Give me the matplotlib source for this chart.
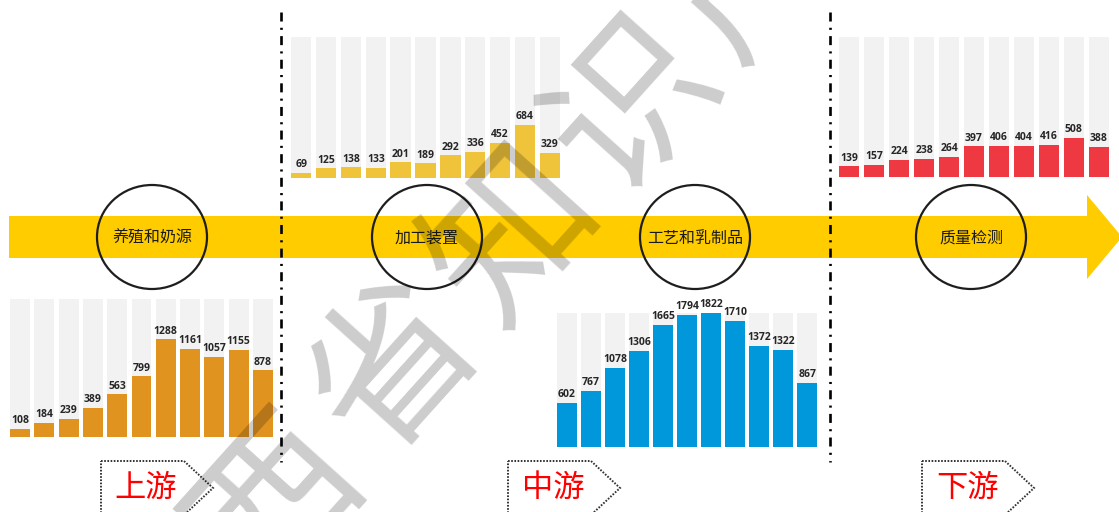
import numpy as np
import matplotlib
matplotlib.use("Agg")
import matplotlib.pyplot as plt
from matplotlib.patches import Polygon, Ellipse

plt.rcParams["lines.scale_dashes"] = False
plt.rcParams["font.family"] = ["Noto Sans CJK SC", "DejaVu Sans"]

# ---- data -------------------------------------------------------------
upstream_values = [108, 184, 239, 389, 563, 799, 1288, 1161, 1057, 1155, 878]
processing_values = [69, 125, 138, 133, 201, 189, 292, 336, 452, 684, 329]
craft_values = [602, 767, 1078, 1306, 1665, 1794, 1822, 1710, 1372, 1322, 867]
quality_values = [139, 157, 224, 238, 264, 397, 406, 404, 416, 508, 388]

stage_names = ["养殖和奶源", "加工装置", "工艺和乳制品", "质量检测"]
segment_names = ["上游", "中游", "下游"]
watermark = "陕西省知识产权"

# ---- canvas -----------------------------------------------------------
W, H = 1119, 512
fig = plt.figure(figsize=(W / 100, H / 100), dpi=100)
ax = fig.add_axes([0, 0, 1, 1])
ax.set_xlim(0, W)
ax.set_ylim(H, 0)
ax.axis("off")

# common scale: every panel's background column reaches the overall peak
ceiling = max(max(upstream_values), max(processing_values),
              max(craft_values), max(quality_values))


def bar_panel(left, top, right, bottom, values, color):
    a = fig.add_axes([left / W, 1 - bottom / H, (right - left) / W, (bottom - top) / H])
    a.axis("off")
    idx = np.arange(len(values))
    width = 0.82
    a.bar(idx, [ceiling] * len(values), width=width, color="#F2F2F2", zorder=1)
    a.bar(idx, values, width=width, color=color, zorder=2)
    for i, v in zip(idx, values):
        a.annotate(str(v), (i, v), xytext=(0, 2), textcoords="offset points",
                   ha="center", va="bottom", fontsize=7.5, fontweight="bold",
                   family="Open Sans", color="#262626", zorder=3)
    a.set_xlim(-width / 2, len(values) - 1 + width / 2)
    a.set_ylim(0, ceiling)
    return a


# ---- main arrow -------------------------------------------------------
arrow = Polygon([(9, 216), (1087, 216), (1087, 195), (1122, 237),
                 (1087, 279), (1087, 258), (9, 258)],
                closed=True, facecolor="#FFCC00", edgecolor="none", zorder=1)
ax.add_patch(arrow)

# ---- stage circles ----------------------------------------------------
for cx, name in zip([152, 427, 695, 971], stage_names):
    ax.add_patch(Ellipse((cx, 237), 110, 104, fill=False, edgecolor="#1E1E1E",
                         linewidth=1.6, zorder=3))
    ax.text(cx, 238, name, ha="center", va="center", fontsize=11.5,
            color="#1A1A1A", zorder=4)

# ---- separators -------------------------------------------------------
for x in [281, 830]:
    ax.plot([x, x], [12, 462], color="black", linewidth=1.9,
            dashes=(6.5, 4.5, 1.5, 4.5), zorder=5)

# ---- segment tags -----------------------------------------------------
for left, name in zip([101, 508, 922], segment_names):
    body = 83
    tag = Polygon([(left, 461), (left + body, 461), (left + body + 29, 488),
                   (left + body, 515), (left, 515)], closed=True, fill=False,
                  edgecolor="#333333", linewidth=1.4, linestyle=(0, (1.2, 1.1)),
                  zorder=3)
    ax.add_patch(tag)
    ax.text(left + 45, 488, name, ha="center", va="center", fontsize=22.5,
            color="#FF0000", zorder=4)

# ---- bar panels -------------------------------------------------------
bar_panel(10, 299, 273, 437, upstream_values, "#E0931F")
bar_panel(291, 37, 560, 178, processing_values, "#EFC43A")
bar_panel(557, 313, 817, 447, craft_values, "#0098DA")
bar_panel(839, 37, 1109, 177, quality_values, "#EE3842")

# ---- watermark --------------------------------------------------------
angle = 48.0
step = 178.0
dx, dy = step * np.cos(np.radians(angle)), -step * np.sin(np.radians(angle))
ox, oy = 396.0, 369.0   # centre of the third character
for k, ch in enumerate(watermark):
    px = ox + (k - 2) * dx
    py = oy + (k - 2) * dy
    fig.text(px / W, 1 - py / H, ch, rotation=angle, rotation_mode="anchor",
             ha="center", va="center", fontsize=118, fontweight="medium",
             color="black", alpha=0.2, family="Noto Sans CJK SC", zorder=20)

fig.savefig("out.png", dpi=100)
